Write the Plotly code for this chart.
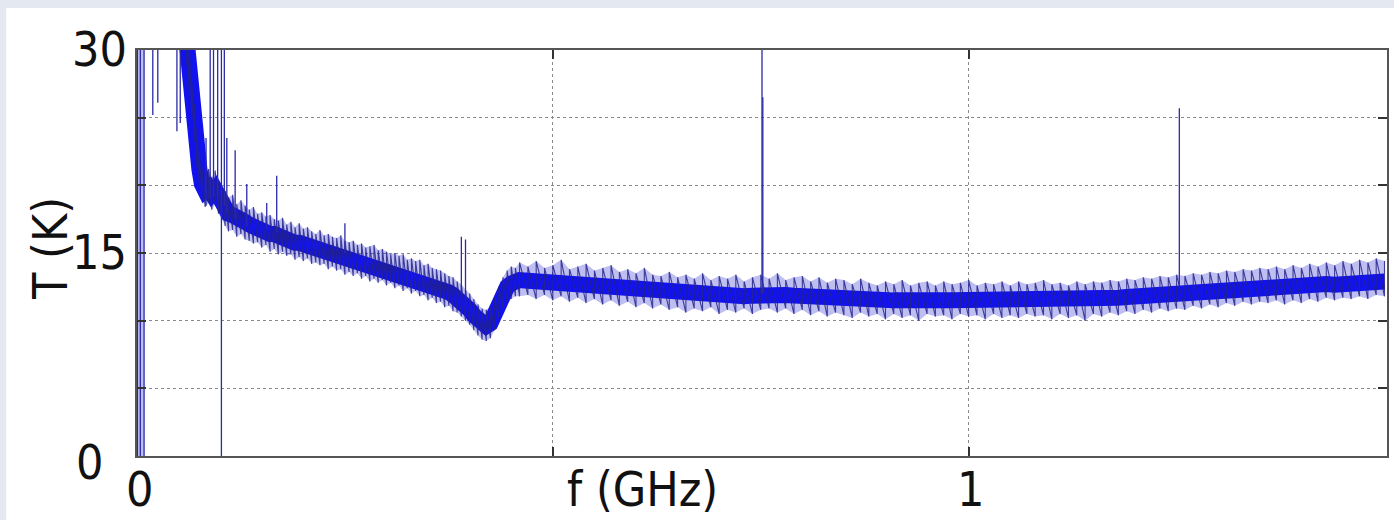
import plotly.graph_objects as go

# Noise-temperature spectrum, read as band centre and lower / upper extent of the noise
f_ghz = [
    0.011, 0.030, 0.058, 0.060, 0.063, 0.066, 0.069, 0.072, 0.075, 0.078, 0.082, 0.086,
    0.090, 0.094, 0.098, 0.102, 0.106, 0.110, 0.115, 0.120, 0.125, 0.130, 0.135, 0.140,
    0.145, 0.150, 0.155, 0.160, 0.165, 0.170, 0.175, 0.180, 0.185, 0.190, 0.195, 0.200,
    0.205, 0.210, 0.215, 0.220, 0.225, 0.230, 0.235, 0.240, 0.245, 0.250, 0.255, 0.260,
    0.265, 0.270, 0.275, 0.280, 0.285, 0.290, 0.295, 0.300, 0.305, 0.310, 0.315, 0.320,
    0.325, 0.330, 0.335, 0.340, 0.345, 0.350, 0.355, 0.360, 0.365, 0.370, 0.375, 0.380,
    0.385, 0.390, 0.395, 0.400, 0.405, 0.410, 0.415, 0.420, 0.425, 0.430, 0.435, 0.440,
    0.445, 0.450, 0.455,
    0.46, 0.47, 0.48, 0.49, 0.50, 0.51, 0.52, 0.53, 0.54, 0.55, 0.56, 0.57, 0.58, 0.59,
    0.60, 0.61, 0.62, 0.63, 0.64, 0.65, 0.66, 0.67, 0.68, 0.69, 0.70, 0.71, 0.72, 0.73,
    0.74, 0.75, 0.76, 0.77, 0.78, 0.79, 0.80, 0.81, 0.82, 0.83, 0.84, 0.85, 0.86, 0.87,
    0.88, 0.89, 0.90, 0.91, 0.92, 0.93, 0.94, 0.95, 0.96, 0.97, 0.98, 0.99, 1.00, 1.01,
    1.02, 1.03, 1.04, 1.05, 1.06, 1.07, 1.08, 1.09, 1.10, 1.11, 1.12, 1.13, 1.14, 1.15,
    1.16, 1.17, 1.18, 1.19, 1.20, 1.21, 1.22, 1.23, 1.24, 1.25, 1.26, 1.27, 1.28, 1.29,
    1.30, 1.31, 1.32, 1.33, 1.34, 1.35, 1.36, 1.37, 1.38, 1.39, 1.40, 1.41, 1.42, 1.43,
    1.44, 1.45, 1.46, 1.47, 1.48, 1.49, 1.50,
]
t_mid = [
    31.5, 31.5, 31.5, 30.5, 28.0, 26.2, 24.5, 22.8, 21.2, 20.1, 19.6, 19.8,
    19.4, 19.7, 19.1, 18.6, 18.2, 17.9, 17.8, 17.5, 17.4, 17.3, 17.1, 16.9,
    16.85, 16.75, 16.65, 16.4, 16.4, 16.2, 16.15, 16.0, 15.95, 15.75, 15.75, 15.65,
    15.5, 15.4, 15.35, 15.25, 15.2, 15.1, 15.0, 14.85, 14.8, 14.7, 14.6, 14.55,
    14.45, 14.35, 14.25, 14.15, 14.1, 14.05, 13.95, 13.85, 13.8, 13.7, 13.6, 13.45,
    13.4, 13.3, 13.15, 13.05, 12.9, 12.8, 12.7, 12.55, 12.4, 12.25, 12.1, 11.9,
    11.7, 11.45, 11.15, 10.8, 10.4, 10.0, 9.7, 9.6, 9.8, 10.5, 11.4, 12.05,
    12.5, 12.75, 12.9,
    13.0, 12.95, 12.9, 12.9, 12.85, 12.8, 12.75, 12.7, 12.65, 12.6, 12.55, 12.5, 12.45, 12.4,
    12.3, 12.25, 12.2, 12.1, 12.05, 12.0, 11.95, 11.9, 11.9, 11.9, 11.85, 11.85, 11.8, 11.8,
    11.85, 11.9, 12.0, 11.95, 11.9, 11.85, 11.8, 11.75, 11.7, 11.7, 11.65, 11.65, 11.6, 11.6,
    11.55, 11.55, 11.5, 11.5, 11.5, 11.45, 11.5, 11.5, 11.45, 11.5, 11.5, 11.5, 11.55, 11.5,
    11.45, 11.5, 11.45, 11.5, 11.55, 11.5, 11.55, 11.6, 11.55, 11.5, 11.55, 11.5, 11.55, 11.6,
    11.6, 11.65, 11.7, 11.75, 11.8, 11.8, 11.9, 11.85, 11.95, 12.0, 12.05, 12.05, 12.1, 12.2,
    12.2, 12.25, 12.3, 12.3, 12.4, 12.4, 12.45, 12.5, 12.45, 12.5, 12.5, 12.6, 12.6, 12.7,
    12.65, 12.7, 12.75, 12.8, 12.8, 12.9, 12.9,
]
t_low = [
    31.0, 31.0, 31.0, 28.8, 26.6, 24.8, 23.2, 21.4, 19.9, 19.0, 18.4, 18.7,
    18.2, 18.6, 17.9, 17.5, 17.0, 16.6, 16.7, 16.2, 16.4, 16.0, 15.9, 15.7,
    15.8, 15.4, 15.6, 15.1, 15.3, 14.9, 15.1, 14.8, 14.9, 14.5, 14.7, 14.4,
    14.6, 14.2, 14.3, 14.1, 14.2, 13.8, 14.0, 13.7, 13.8, 13.4, 13.6, 13.3,
    13.5, 13.1, 13.3, 12.9, 13.1, 12.8, 13.0, 12.6, 12.8, 12.4, 12.6, 12.2,
    12.4, 12.0, 12.2, 11.8, 11.9, 11.5, 11.7, 11.3, 11.4, 11.0, 11.1, 10.7,
    10.6, 10.3, 10.0, 9.7, 9.3, 8.9, 8.6, 8.5, 8.7, 9.3, 10.2, 10.9,
    11.4, 11.6, 11.8,
    11.8, 11.9, 11.6, 11.9, 11.5, 11.8, 11.4, 11.7, 11.3, 11.6, 11.2, 11.5, 11.1, 11.4,
    11.0, 11.3, 10.9, 11.2, 10.8, 11.0, 10.6, 10.9, 10.7, 11.0, 10.5, 10.8, 10.6, 10.9,
    10.5, 10.8, 10.9, 10.6, 10.9, 10.5, 10.8, 10.4, 10.7, 10.3, 10.6, 10.4, 10.2, 10.6,
    10.3, 10.5, 10.1, 10.5, 10.2, 10.4, 10.0, 10.5, 10.3, 10.4, 10.1, 10.5, 10.3, 10.4,
    10.1, 10.5, 10.2, 10.4, 10.2, 10.5, 10.3, 10.4, 10.1, 10.5, 10.2, 10.4, 10.0, 10.5,
    10.3, 10.6, 10.4, 10.7, 10.5, 10.8, 10.6, 10.9, 10.7, 10.9, 10.8, 11.1, 10.9, 11.2,
    11.0, 11.3, 11.1, 11.4, 11.2, 11.4, 11.3, 11.5, 11.2, 11.5, 11.3, 11.6, 11.4, 11.7,
    11.5, 11.7, 11.6, 11.8, 11.6, 11.9, 11.8,
]
t_high = [
    32.0, 32.0, 32.0, 32.0, 30.2, 27.6, 26.0, 24.3, 22.6, 21.4, 21.0, 21.2,
    20.6, 21.1, 20.3, 19.9, 19.6, 19.1, 19.3, 18.6, 18.9, 18.5, 18.2, 18.4,
    17.9, 18.0, 17.7, 17.8, 17.5, 17.4, 17.6, 17.1, 17.3, 16.9, 17.2, 16.8,
    16.9, 16.6, 16.4, 16.7, 16.3, 16.4, 16.2, 16.1, 16.3, 15.9, 15.8, 15.9,
    15.6, 15.7, 15.4, 15.5, 15.6, 15.2, 15.3, 15.1, 14.9, 15.0, 14.8, 14.9,
    14.5, 14.6, 14.4, 14.5, 14.1, 14.2, 13.9, 13.8, 13.7, 13.5, 13.3, 13.2,
    12.9, 12.7, 12.3, 12.0, 11.6, 11.2, 10.9, 10.8, 11.0, 11.7, 12.5, 13.2,
    13.7, 14.0, 13.9,
    14.3, 14.0, 14.4, 13.9, 14.1, 14.5, 13.8, 14.0, 14.2, 13.7, 13.9, 14.1, 13.6, 13.8,
    13.5, 13.9, 13.4, 13.3, 13.6, 13.2, 13.4, 13.1, 13.5, 13.0, 13.3, 13.1, 13.4, 12.9,
    13.2, 13.4, 13.1, 13.5, 13.0, 13.2, 13.3, 12.9, 13.2, 12.8, 13.1, 13.0, 12.7, 13.1,
    12.8, 12.6, 12.9, 12.7, 13.0, 12.6, 12.8, 12.9, 12.6, 12.9, 12.7, 12.8, 13.0, 12.6,
    12.8, 12.7, 12.9, 12.6, 12.9, 12.7, 12.8, 13.0, 12.7, 12.8, 12.6, 12.9, 12.7, 12.9,
    12.8, 13.0, 12.9, 13.1, 13.0, 13.2, 13.1, 13.3, 13.2, 13.4, 13.3, 13.5, 13.4, 13.6,
    13.5, 13.7, 13.6, 13.8, 13.7, 13.9, 13.8, 14.0, 13.8, 14.1, 13.9, 14.2, 14.0, 14.3,
    14.1, 14.4, 14.2, 14.5, 14.3, 14.6, 14.4,
]

# Near-DC bins: saturated from 0 K to above full scale
dc_f = [0.0005, 0.004, 0.0085]
dc_lo = [0.0, 0.0, 0.0]
dc_hi = [31.0, 31.0, 31.0]

# Isolated interference lines: frequency, foot and peak temperature
spike_f = [0.019, 0.025, 0.048, 0.052, 0.083, 0.088, 0.092, 0.097, 0.1015, 0.105, 0.108,
           0.118, 0.132, 0.156, 0.168, 0.250, 0.390, 0.395, 0.7515, 0.7525, 1.2533]
spike_lo = [25.2, 26.1, 24.0, 24.6, 18.5, 19.0, 19.2, 19.0, 0.0, 18.5, 18.0,
            17.5, 17.0, 16.8, 16.5, 15.0, 12.0, 11.8, 12.0, 12.0, 12.5]
spike_hi = [31.0, 31.0, 31.0, 31.0, 23.5, 31.0, 31.0, 31.0, 31.0, 31.0, 23.5,
            22.6, 20.1, 18.7, 20.7, 17.2, 16.2, 16.0, 30.5, 26.5, 25.7]

y_grid = [0, 5, 10, 15, 20, 25, 30]
x_grid = [0.5, 1.0]
y_labels = [0, 15, 30]
x_labels = [0, 1]
x_title = "f (GHz)"
y_title = "T (K)"

LABEL_FONT = dict(family="DejaVu Sans Condensed, DejaVu Sans", size=48, color="#111111")

fig = go.Figure()

# light block of saturated DC bins
fig.add_trace(go.Scatter(
    x=[dc_f[0], dc_f[0], dc_f[-1], dc_f[-1]],
    y=[dc_lo[0], dc_hi[0], dc_hi[-1], dc_lo[-1]],
    fill="toself", fillcolor="rgba(70,70,220,0.35)", mode="none",
    hoverinfo="skip", showlegend=False,
))

# translucent haze over the full noise spread
fig.add_trace(go.Scatter(
    x=f_ghz + f_ghz[::-1], y=t_high + t_low[::-1],
    fill="toself", fillcolor="rgba(40,40,210,0.30)", mode="none",
    hoverinfo="skip", showlegend=False,
))

# dense core of the noise band
fig.add_trace(go.Scatter(
    x=f_ghz, y=t_mid, mode="lines",
    line=dict(color="#1212ee", width=16),
    hoverinfo="skip", showlegend=False,
))

# noise excursions traced from bin to bin between low and high extent
nx, ny = [], []
for f, lo, hi in zip(f_ghz, t_low, t_high):
    nx += [f, f]
    ny += [lo, hi]
fig.add_trace(go.Scatter(
    x=nx, y=ny, mode="lines", line=dict(color="#24248a", width=1.1),
    opacity=0.85, hoverinfo="skip", showlegend=False,
))

# vertical lines: DC bins and interference spikes
sx, sy = [], []
for f, lo, hi in zip(dc_f + spike_f, dc_lo + spike_lo, dc_hi + spike_hi):
    sx += [f, f, None]
    sy += [lo, hi, None]
fig.add_trace(go.Scatter(
    x=sx, y=sy, mode="lines", line=dict(color="#2a2aa8", width=1.3),
    hoverinfo="skip", showlegend=False,
))

axis_common = dict(
    showline=True, linecolor="#555555", linewidth=1.5, mirror="allticks",
    ticks="inside", ticklen=9, tickcolor="#333333", tickwidth=1.5,
    showgrid=True, gridcolor="#8a8a8a", gridwidth=1, griddash="dot",
    zeroline=False, showticklabels=False,
)
fig.update_xaxes(range=[0, 1.503], tickvals=x_grid, **axis_common)
fig.update_yaxes(range=[0, 30], tickvals=y_grid, **axis_common)

annotations = []
for v in y_labels:
    annotations.append(dict(
        xref="paper", x=0, yref="y", y=v, text=str(v), showarrow=False,
        xanchor="right", yanchor="middle", font=LABEL_FONT,
        xshift=-32 if v == 0 else -8, yshift=-6 if v == 0 else 1,
    ))
for v in x_labels:
    annotations.append(dict(
        xref="x", x=v, yref="paper", y=0, text=str(v), showarrow=False,
        xanchor="center", yanchor="bottom", font=LABEL_FONT,
        xshift=2, yshift=-63,
    ))
annotations.append(dict(
    xref="x", x=0.608, yref="paper", y=0, text=x_title, showarrow=False,
    xanchor="center", yanchor="bottom", font=LABEL_FONT, yshift=-63,
))
annotations.append(dict(
    xref="paper", x=0, yref="paper", y=0.5, text=y_title, showarrow=False,
    textangle=-90, xanchor="center", yanchor="middle", font=LABEL_FONT,
    xshift=-87, yshift=4,
))

# outer frame strips along the top and left edges
shapes = [
    dict(type="rect", xref="paper", yref="paper", x0=-0.2, x1=1.1, y0=1.1034, y1=1.3,
         fillcolor="#e4e9f1", line=dict(width=0), layer="below"),
    dict(type="rect", xref="paper", yref="paper", x0=-0.2, x1=-0.1046, y0=-0.3, y1=1.3,
         fillcolor="#e4e9f1", line=dict(width=0), layer="below"),
]

fig.update_layout(
    width=1394, height=520,
    margin=dict(l=137, r=5, t=50, b=64),
    paper_bgcolor="white", plot_bgcolor="white",
    annotations=annotations, shapes=shapes,
    showlegend=False,
)

fig.write_html("out.html")
